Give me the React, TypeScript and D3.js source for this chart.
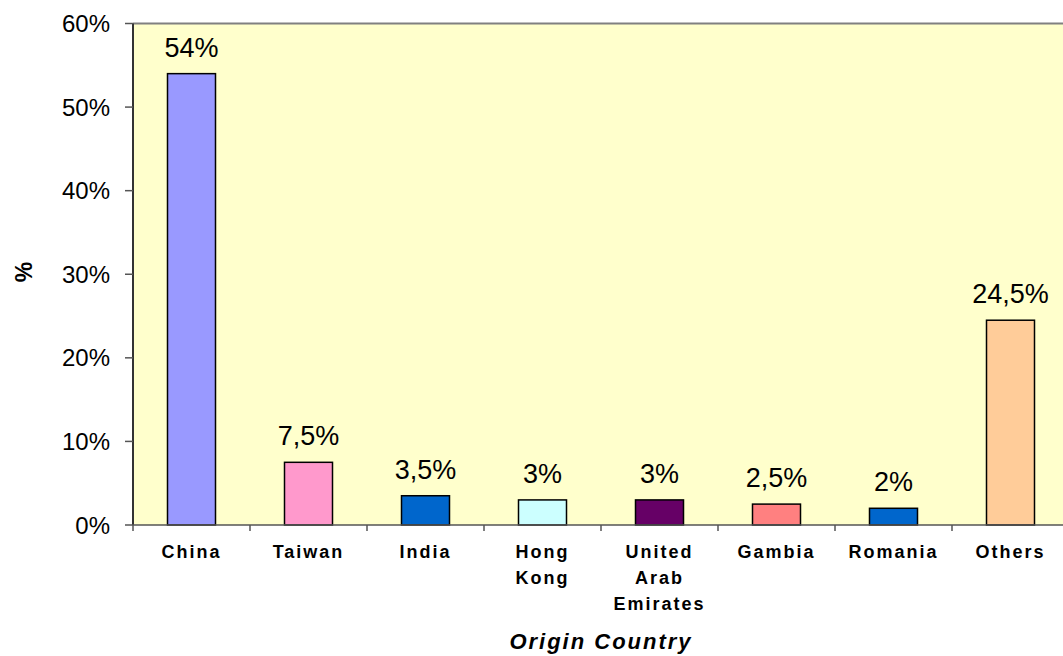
import React from "react";
import * as d3 from "d3";

const categories: string[][] = [
  ["China"],
  ["Taiwan"],
  ["India"],
  ["Hong", "Kong"],
  ["United", "Arab", "Emirates"],
  ["Gambia"],
  ["Romania"],
  ["Others"],
];
const values: number[] = [54, 7.5, 3.5, 3, 3, 2.5, 2, 24.5];
const barColors: string[] = ["#9999FF", "#FF99CC", "#0066CC", "#CCFFFF", "#660066", "#FF8080", "#0066CC", "#FFCC99"];
const yTicks: number[] = [0, 10, 20, 30, 40, 50, 60];
const xTitle = "Origin Country";
const yTitle = "%";

const W = 1063;
const H = 656;
const left = 133;
const top = 23.5;
const bottom = 525;
const bandW = 117;

const locale = d3.formatLocale({ decimal: ",", thousands: ".", grouping: [3], currency: ["", ""] });
const fmt = (v: number) => locale.format("~g")(v) + "%";

export default function App() {
  const idx = categories.map((_, i) => String(i));
  const x = d3.scaleBand<string>().domain(idx).range([left, left + bandW * categories.length]).paddingInner(0).paddingOuter(0);
  const y = d3.scaleLinear().domain([0, 60]).range([bottom, top]);
  const barW = 48;
  const font = "'Liberation Sans', Arial, sans-serif";
  return (
    <svg width={W} height={H} style={{ position: "absolute", left: 0, top: 0, background: "#fff" }} fontFamily={font}>
      <rect x={left} y={top} width={x.range()[1] - left} height={bottom - top} fill="#FFFFCC" />
      <line x1={left} x2={W} y1={top} y2={top} stroke="#808080" strokeWidth={2} />
      {values.map((v, i) => {
        const cx = (x(String(i)) as number) + bandW / 2;
        return (
          <g key={i}>
            <rect x={cx - barW / 2} y={y(v)} width={barW} height={bottom - y(v)} fill={barColors[i]} stroke="#000" strokeWidth={1.5} />
            <text x={cx} y={y(v) - 17} textAnchor="middle" fontSize={27} fill="#000">{fmt(v)}</text>
          </g>
        );
      })}
      <line x1={left} x2={left} y1={top} y2={bottom} stroke="#333" strokeWidth={2} />
      <line x1={left} x2={W} y1={bottom} y2={bottom} stroke="#555" strokeWidth={1.5} />
      {yTicks.map((t) => (
        <g key={t}>
          <line x1={left - 8} x2={left} y1={y(t)} y2={y(t)} stroke="#555" strokeWidth={1.5} />
          <text x={left - 23} y={y(t) + 8.5} textAnchor="end" fontSize={24} fill="#000">{t}%</text>
        </g>
      ))}
      {categories.map((_, i) => {
        const xs = x(String(i)) as number;
        return <line key={i} x1={xs} x2={xs} y1={bottom} y2={bottom + 6} stroke="#555" strokeWidth={1.5} />;
      })}
      {categories.map((lines, i) => {
        const cx = (x(String(i)) as number) + bandW / 2;
        return (
          <text key={i} x={cx} textAnchor="middle" fontSize={18} fontWeight="bold" letterSpacing={2} fill="#000">
            {lines.map((l, j) => (
              <tspan key={j} x={cx} y={558 + j * 26}>{l}</tspan>
            ))}
          </text>
        );
      })}
      <text x={601} y={649} textAnchor="middle" fontSize={22} fontWeight="bold" fontStyle="italic" letterSpacing={2} fill="#000">{xTitle}</text>
      <text transform={`translate(32,272) rotate(-90)`} textAnchor="middle" fontSize={23} fontWeight="bold" fill="#000">{yTitle}</text>
    </svg>
  );
}
